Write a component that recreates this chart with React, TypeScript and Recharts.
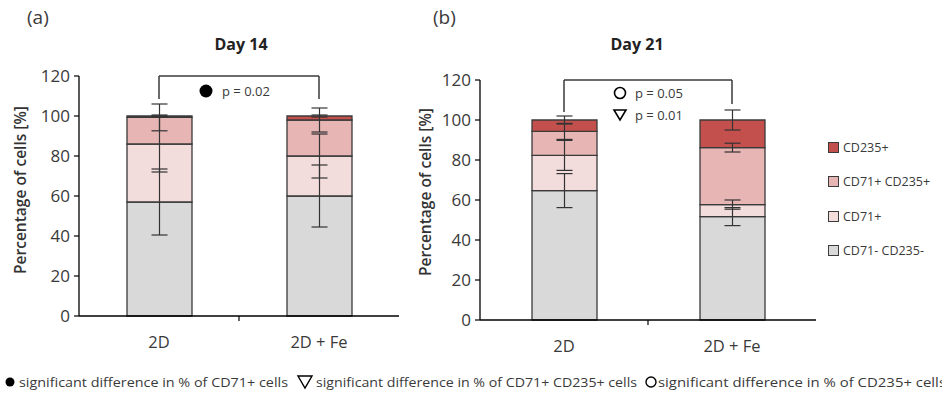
import {
  BarChart,
  Bar,
  XAxis,
  YAxis,
  ErrorBar,
  ReferenceLine,
  Legend,
} from 'recharts';

const CATEGORIES = ['2D', '2D + Fe'];
const Y_TICKS = [0, 20, 40, 60, 80, 100, 120];

// Day 14 means (stacked % of cells) and SDs
const D14_NEG = [57, 60];
const D14_CD71 = [29, 20];
const D14_DOUBLE = [13.3, 18];
const D14_CD235 = [0.7, 2];
const D14_NEG_ERR = [16.5, 15.5];
const D14_CD71_ERR = [14, 11];
const D14_DOUBLE_ERR = [6.7, 6];
const D14_CD235_ERR = [0.5, 0.5];

// Day 21
const D21_NEG = [64.7, 51.7];
const D21_CD71 = [17.6, 6];
const D21_DOUBLE = [12, 28.5];
const D21_CD235 = [5.7, 13.8];
const D21_NEG_ERR = [8.5, 4.5];
const D21_CD71_ERR = [7.5, 2.3];
const D21_DOUBLE_ERR = [4, 2.2];
const D21_CD235_ERR = [2, 5];

// significance bracket: top level and leg ends per category
const D14_BRACKET = [108.5, 108.5];
const D21_BRACKET = [104, 108];
const BRACKET_TOP = 120;

const SERIES = [
  { key: 'neg', label: 'CD71- CD235-', color: '#d9d9d9' },
  { key: 'cd71', label: 'CD71+', color: '#f2dcdc' },
  { key: 'double', label: 'CD71+ CD235+', color: '#e6b5b4' },
  { key: 'cd235', label: 'CD235+', color: '#c4504e' },
] as const;

const FONT = '"Open Sans", "Noto Sans", sans-serif';
const INK = '#3a3a3a';

function buildRows(
  neg: number[], cd71: number[], dbl: number[], cd235: number[],
  negE: number[], cd71E: number[], dblE: number[], cd235E: number[],
) {
  return CATEGORIES.map((name, i) => ({
    name,
    neg: neg[i],
    cd71: cd71[i],
    double: dbl[i],
    cd235: cd235[i],
    negErr: negE[i],
    cd71Err: cd71E[i],
    doubleErr: dblE[i],
    cd235Err: cd235E[i],
  }));
}

const day14 = buildRows(D14_NEG, D14_CD71, D14_DOUBLE, D14_CD235, D14_NEG_ERR, D14_CD71_ERR, D14_DOUBLE_ERR, D14_CD235_ERR);
const day21 = buildRows(D21_NEG, D21_CD71, D21_DOUBLE, D21_CD235, D21_NEG_ERR, D21_CD71_ERR, D21_DOUBLE_ERR, D21_CD235_ERR);

function CategoryTick(props: any) {
  const { x, y, payload, index } = props;
  const half = payload?.offset ?? 80;
  return (
    <g>
      {index === 0 && <line x1={x + half} x2={x + half} y1={y - 8} y2={y - 3} stroke="#000" strokeWidth={1.2} />}
      <text x={x} y={y + 24} textAnchor="middle" fontSize={16.5} fill={INK} fontFamily={FONT}>
        {payload.value}
      </text>
    </g>
  );
}

function LegendBox({ payload }: any) {
  const list = payload || [];
  const items = SERIES.slice()
    .reverse()
    .map((s) => list.find((p: any) => p.value === s.label) || { value: s.label, color: s.color });
  return (
    <div style={{ fontFamily: FONT, fontSize: 12.5, color: INK, whiteSpace: 'nowrap' }}>
      {items.map((p: any) => (
        <div key={p.value} style={{ height: 34.5, display: 'flex', alignItems: 'center' }}>
          <span
            style={{
              display: 'inline-block',
              width: 9,
              height: 9,
              background: p.color,
              border: `1px solid ${INK}`,
              marginRight: 4,
            }}
          />
          {p.value}
        </div>
      ))}
    </div>
  );
}

interface PanelProps {
  data: ReturnType<typeof buildRows>;
  bracket: number[];
  width: number;
  margin: { top: number; right: number; bottom: number; left: number };
  legend?: boolean;
}

function Panel({ data, bracket, width, margin, legend }: PanelProps) {
  return (
    <BarChart width={width} height={360} data={data} margin={margin} barSize={65}>
      <XAxis
        dataKey="name"
        axisLine={{ stroke: '#000', strokeWidth: 1.3 }}
        tickLine={false}
        tick={<CategoryTick />}
        height={30}
        interval={0}
      />
      <YAxis
        domain={[0, 120]}
        ticks={Y_TICKS}
        width={60}
        axisLine={{ stroke: '#000', strokeWidth: 1.3 }}
        tickLine={{ stroke: '#000', strokeWidth: 1.2 }}
        tickSize={5}
        tickMargin={4}
        tick={{ fontSize: 17, fill: INK, fontFamily: FONT }}
        interval={0}
      />
      {SERIES.map((s) => (
        <Bar
          key={s.key}
          dataKey={s.key}
          name={s.label}
          stackId="a"
          fill={s.color}
          stroke={INK}
          strokeWidth={1.3}
          isAnimationActive={false}
        >
          <ErrorBar dataKey={`${s.key}Err`} width={8} stroke="#333" strokeWidth={1.2} direction="y" />
        </Bar>
      ))}
      <ReferenceLine
        segment={[{ x: CATEGORIES[0], y: BRACKET_TOP }, { x: CATEGORIES[1], y: BRACKET_TOP }]}
        stroke={INK}
        strokeWidth={1.5}
      />
      {CATEGORIES.map((c, i) => (
        <ReferenceLine
          key={c}
          segment={[{ x: c, y: BRACKET_TOP }, { x: c, y: bracket[i] }]}
          stroke={INK}
          strokeWidth={1.5}
        />
      ))}
      {legend && (
        <Legend
          layout="vertical"
          verticalAlign="middle"
          align="center"
          wrapperStyle={{ top: 130, left: 428, width: 114 }}
          content={<LegendBox />}
        />
      )}
    </BarChart>
  );
}

export default function App() {
  return (
    <div style={{ position: 'absolute', left: 0, top: 0, width: 942, height: 394, background: '#fff', fontFamily: FONT, overflow: 'hidden' }}>
      <div style={{ position: 'absolute', left: 0, top: 0 }}>
        <Panel data={day14} bracket={D14_BRACKET} width={420} margin={{ top: 76, right: 21, bottom: 14, left: 19 }} />
      </div>
      <div style={{ position: 'absolute', left: 400, top: 0 }}>
        <Panel data={day21} bracket={D21_BRACKET} width={542} margin={{ top: 80, right: 126, bottom: 10, left: 20 }} legend />
      </div>
      <svg width={942} height={394} style={{ position: 'absolute', left: 0, top: 0, pointerEvents: 'none' }} fontFamily={FONT}>
        <text x={27} y={24} fontSize={19} fill={INK}>(a)</text>
        <text x={433} y={24} fontSize={19} fill={INK}>(b)</text>
        <text x={241} y={50} fontSize={16} fontWeight="bold" fill="#222" textAnchor="middle">Day 14</text>
        <text x={637} y={50} fontSize={16} fontWeight="bold" fill="#222" textAnchor="middle">Day 21</text>
        <text transform="translate(26,190) rotate(-90)" fontSize={15.5} fontWeight={600} fill="#333" textAnchor="middle">
          Percentage of cells [%]
        </text>
        <text transform="translate(431,192) rotate(-90)" fontSize={15.5} fontWeight={600} fill="#333" textAnchor="middle">
          Percentage of cells [%]
        </text>

        <circle cx={206} cy={91} r={6.5} fill="#000" />
        <text x={222} y={96} fontSize={13} fill={INK}>p = 0.02</text>
        <circle cx={620} cy={93} r={5.5} fill="none" stroke="#000" strokeWidth={1.6} />
        <text x={635} y={98} fontSize={13} fill={INK}>p = 0.05</text>
        <polygon points="614,110 626,110 620,120" fill="none" stroke="#000" strokeWidth={1.6} />
        <text x={635} y={120} fontSize={13} fill={INK}>p = 0.01</text>

        <circle cx={10} cy={382} r={4.5} fill="#000" />
        <text x={19} y={387} fontSize={13} fill={INK} textLength={269} lengthAdjust="spacingAndGlyphs">
          significant difference in % of CD71+ cells
        </text>
        <polygon points="298,376 312,376 305,388" fill="none" stroke="#000" strokeWidth={1.4} />
        <text x={316} y={387} fontSize={13} fill={INK} textLength={321} lengthAdjust="spacingAndGlyphs">
          significant difference in % of CD71+ CD235+ cells
        </text>
        <circle cx={651} cy={382} r={5} fill="none" stroke="#000" strokeWidth={1.4} />
        <text x={658} y={387} fontSize={13} fill={INK} textLength={288} lengthAdjust="spacingAndGlyphs">
          significant difference in % of CD235+ cells
        </text>
      </svg>
    </div>
  );
}
